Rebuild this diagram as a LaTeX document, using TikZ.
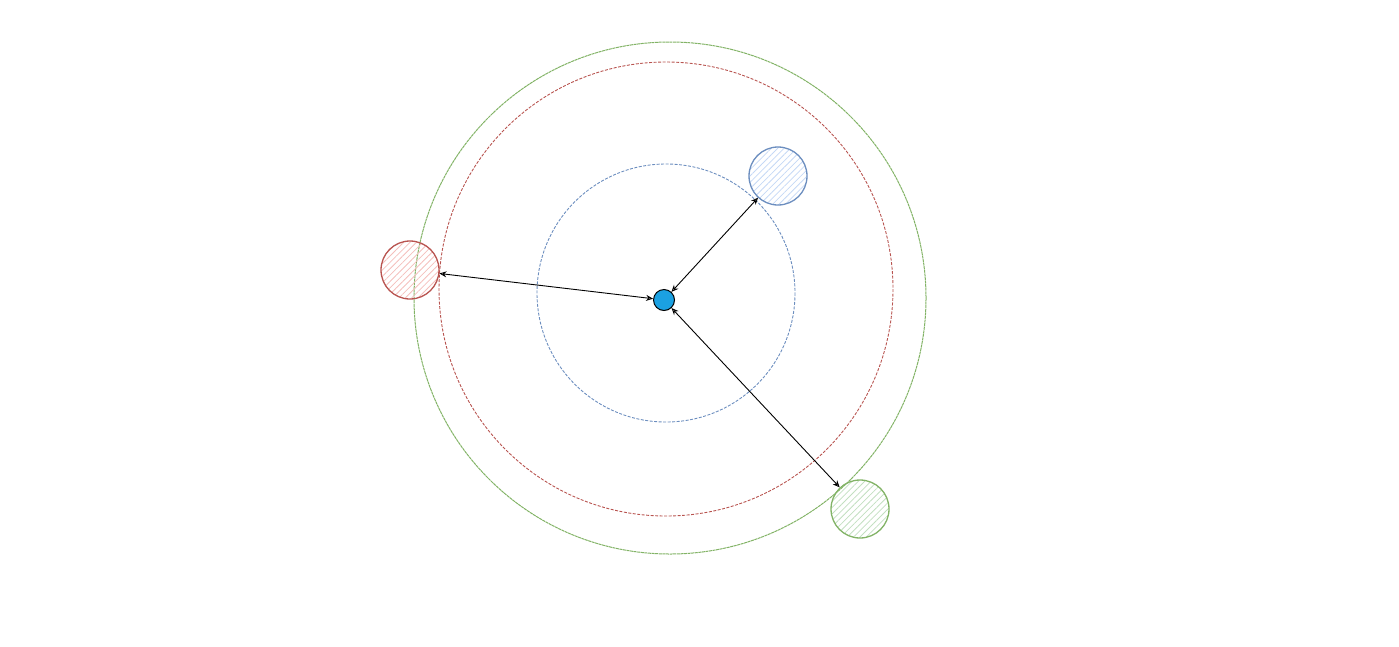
\documentclass[tikz,border=0pt]{standalone}
\usetikzlibrary{patterns.meta,arrows.meta}
\definecolor{bstroke}{HTML}{6C8EBF}
\definecolor{bfill}{HTML}{C5D8F5}
\definecolor{rstroke}{HTML}{B85450}
\definecolor{rfill}{HTML}{F4BFBC}
\definecolor{gstroke}{HTML}{82B366}
\definecolor{gfill}{HTML}{C2DFC0}
\definecolor{cfill}{HTML}{1BA1E2}
\begin{document}
\begin{tikzpicture}[x=1pt,y=-1pt,
  orbit/.style={line width=0.9pt, dash pattern=on 3pt off 1.5pt},
  planet/.style={circle, minimum size=58pt, inner sep=0pt, line width=1.3pt},
  hatch/.style={pattern={Lines[angle=45, distance=4.5pt, line width=0.8pt]}, pattern color=#1},
  link/.style={line width=0.9pt, {Stealth[open,length=7pt,width=6pt]}-{Stealth[open,length=7pt,width=6pt]}}]
\useasboundingbox (0,0) rectangle (1399,646);
\draw[orbit, gstroke, line width=1pt, dash pattern=on 3pt off 0.6pt] (670,298) circle[radius=256];
\draw[orbit, rstroke] (666,289) circle[radius=227];
\draw[orbit, bstroke] (666,293) circle[radius=129];
\node[planet, draw=bstroke, hatch=bfill] (pb) at (778,176) {};
\node[planet, draw=rstroke, hatch=rfill] (pr) at (410,270) {};
\node[planet, draw=gstroke, hatch=gfill] (pg) at (860,509) {};
\node[circle, minimum size=21pt, inner sep=0pt, fill=cfill, draw=black, line width=1pt] (c) at (664,300) {};
\draw[link] (pr) -- (c);
\draw[link] (pb) -- (c);
\draw[link] (pg) -- (c);
\end{tikzpicture}
\end{document}
